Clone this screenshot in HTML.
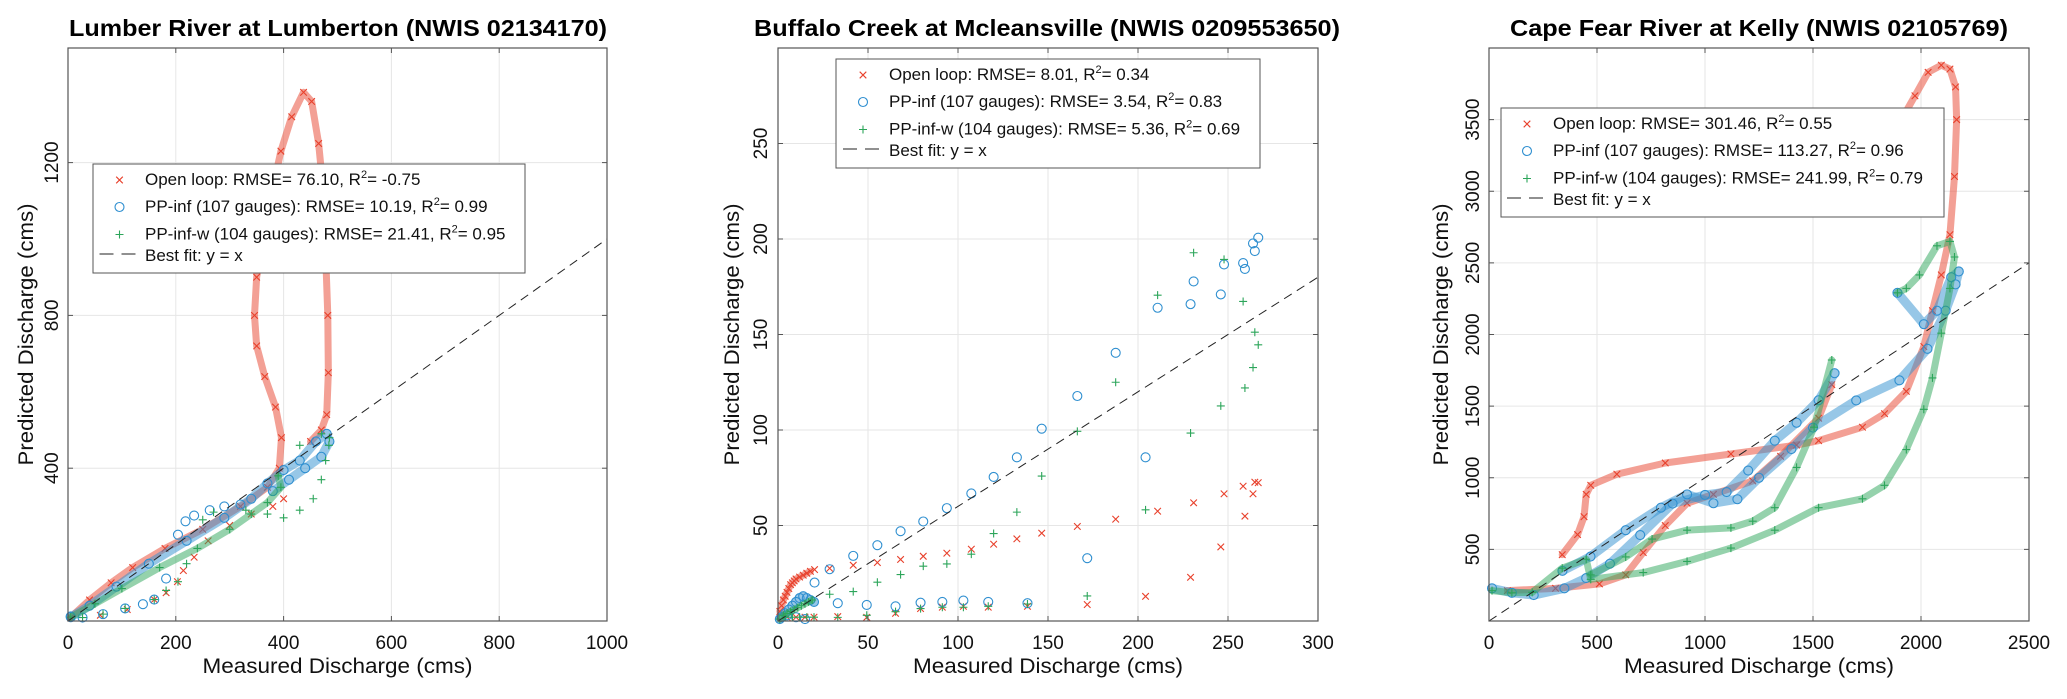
<!DOCTYPE html>
<html><head><meta charset="utf-8"><title>Discharge comparison</title>
<style>
html,body{margin:0;padding:0;background:#fff;}
svg{display:block;font-family:"Liberation Sans",Arial,sans-serif;}
</style></head>
<body>
<svg id="fig" width="2067" height="699" viewBox="0 0 2067 699" xmlns="http://www.w3.org/2000/svg"></svg>
<script>
// ---------- Panel 1: Lumber River ----------
const p1Title = "Lumber River at Lumberton (NWIS 02134170)";
const p1XTicks = [0,200,400,600,800,1000];
const p1YTicks = [400,800,1200];
const p1XRange = [0,1000];
const p1YRange = [0,1500];
const p1BestFit = [[0,0],[1000,1000]];
const p1Legend = ["Open loop: RMSE= 76.10, R|= -0.75","PP-inf (107 gauges): RMSE= 10.19, R|= 0.99","PP-inf-w (104 gauges): RMSE= 21.41, R|= 0.95","Best fit: y = x"];
const p1Red = [[[5,10],[40,55],[80,100],[120,140],[180,190],[250,240],[320,300],[370,350],[392,400],[396,480],[385,560],[365,640],[350,720],[346,800],[350,900],[362,1000],[378,1120],[395,1230],[415,1320],[437,1384],[452,1360],[465,1250],[474,1120],[478,960],[482,800],[483,650],[480,540],[470,500],[450,470]],
  [[5,8],[60,15],[110,30],[160,56],[182,74],[203,103],[214,132],[234,167],[260,210],[300,250],[340,280],[380,300],[400,320]]];
const p1Blue = [[[5,10],[40,40],[90,90],[150,150],[220,210],[290,270],[340,320],[370,360],[400,395],[430,420],[460,470],[480,490],[485,470],[470,430],[440,400],[410,370],[380,340]],
  [[5,12],[27,9],[65,18],[106,33],[139,44],[160,56],[182,111],[204,226],[218,261],[234,276],[263,290],[290,300],[320,305]]];
const p1Green = [[[5,10],[50,45],[100,85],[170,140],[240,190],[300,240],[340,280],[370,310],[395,350],[390,380]],
  [[330,290],[370,280],[400,270],[430,290],[455,320],[470,370],[478,420],[484,460],[485,480],[470,490],[430,460]],
  [[27,9],[65,18],[106,33],[160,56],[182,80],[204,103],[220,150],[250,265],[270,285]]];
const p1Dense = [true,false,false];

// ---------- Panel 2: Buffalo Creek ----------
const p2Title = "Buffalo Creek at Mcleansville (NWIS 0209553650)";
const p2XTicks = [0,50,100,150,200,250,300];
const p2YTicks = [50,100,150,200,250];
const p2XRange = [0,300];
const p2YRange = [0,300];
const p2BestFit = [[0,0],[300,180]];
const p2Legend = ["Open loop: RMSE= 8.01, R|= 0.34","PP-inf (107 gauges): RMSE= 3.54, R|= 0.83","PP-inf-w (104 gauges): RMSE= 5.36, R|= 0.69","Best fit: y = x"];
const p2Red = [[[264.9,72.7],[266.8,72.4],[258.4,70.6],[247.8,66.6],[230.9,61.9],[210.9,57.5],[187.6,53.3],[166.3,49.5],[146.5,46.0],[132.7,43.0],[119.8,40.2],[107.4,37.6],[93.8,35.5],[80.7,33.9],[68.1,32.2],[55.2,30.6],[41.8,29.2],[28.7,27.6],[20.3,26.9],[263.9,66.6],[259.4,54.9],[246.0,38.8],[229.2,22.9],[204.2,12.9],[171.8,8.6],[138.6,7.7],[116.8,7.2],[103,7.7],[91.3,7.2],[79.2,6.5],[65.3,4.0],[49.3,1.9],[33.2,2.3],[5,2],[10,2],[15,2],[20,2]],
  [[1,5],[2,8],[3,11],[4,13],[5,15],[6,17],[7,19],[8,20],[9,21],[10,22],[12,23],[14,24],[16,25],[18,26]]];
const p2Blue = [[[266.8,200.7],[263.9,197.7],[264.9,193.7],[258.4,187.4],[259.4,184.3],[247.8,186.7],[246.0,171.0],[230.9,177.8],[229.2,165.9],[210.9,164.0],[187.6,140.4],[166.3,117.8],[146.5,100.7],[132.7,85.7],[119.8,75.4],[107.4,66.8],[93.8,59.1],[80.7,52.1],[68.1,47.0],[55.2,39.7],[41.8,34.1],[28.7,27.1],[20.3,20.1],[33.2,9.3],[49.3,8.4],[65.3,7.7],[79.2,9.6],[91.3,10.0],[103,10.7],[116.8,10.0],[138.6,9.3],[171.8,32.9],[204.2,85.7],[5,3],[10,2],[15,1]],
  [[1,1],[2,2],[4,4],[6,6],[8,8],[10,10],[12,12],[14,13],[16,12],[18,11],[20,10]]];
const p2Green = [[[230.9,192.8],[247.8,189.3],[210.9,170.6],[258.4,167.3],[264.9,151.2],[266.8,144.6],[263.9,132.7],[259.4,122.0],[187.6,125.0],[246.0,112.6],[229.2,98.4],[166.3,99.3],[146.5,75.9],[132.7,57.0],[119.8,45.8],[107.4,35.0],[93.8,29.9],[80.7,28.7],[68.1,24.3],[55.2,20.3],[41.8,15.4],[28.7,14.0],[204.2,58.2],[171.8,13.1],[138.6,8.9],[116.8,7.7],[103,7.2],[91.3,7.2],[79.2,6.5],[65.3,4.9],[49.3,3.0],[33.2,1.9],[4,2],[8,2],[12,2],[16,2],[20,2]],
  [[1,1],[3,3],[5,4],[7,5],[9,6],[11,7],[13,8],[15,9],[17,10],[19,11]]];
const p2Dense = [false,true];

// ---------- Panel 3: Cape Fear River ----------
const p3Title = "Cape Fear River at Kelly (NWIS 02105769)";
const p3XTicks = [0,500,1000,1500,2000,2500];
const p3YTicks = [500,1000,1500,2000,2500,3000,3500];
const p3XRange = [0,2500];
const p3YRange = [0,4000];
const p3BestFit = [[0,0],[2500,2500]];
const p3Legend = ["Open loop: RMSE= 301.46, R|= 0.55","PP-inf (107 gauges): RMSE= 113.27, R|= 0.96","PP-inf-w (104 gauges): RMSE= 241.99, R|= 0.79","Best fit: y = x"];
const p3Red = [[[339,463],[410,603],[440,728],[450,884],[471,947],[592,1025],[816,1103],[1120,1166],[1424,1228],[1526,1259],[1729,1353],[1831,1447],[1932,1603],[2013,1916],[2053,2166],[2094,2416],[2134,2697],[2155,3103],[2165,3500],[2160,3728],[2134,3853],[2094,3880],[2033,3830],[1972,3666],[1932,3560]],
  [[85,212],[308,228],[511,259],[633,322],[714,478],[816,666],[917,822],[1039,884],[1221,978],[1350,1150],[1526,1416],[1587,1650]]];
const p3Blue = [[[14,228],[106,197],[207,181],[349,228],[450,300],[560,400],[700,600],[850,820],[1000,880],[1100,900],[1200,1050],[1323,1259],[1424,1384],[1526,1541],[1600,1730]],
  [[340,350],[470,450],[633,634],[796,791],[917,884],[1039,822],[1150,850],[1250,1000],[1400,1200],[1500,1350],[1700,1540],[1900,1680],[2030,1900],[2114,2166],[2160,2350],[2175,2440],[2140,2400],[2074,2166],[2013,2072],[1891,2291]]];
const p3Green = [[[14,212],[106,197],[200,200],[339,369],[450,431],[471,291],[714,338],[917,416],[1120,509],[1323,634],[1526,791],[1729,853],[1831,947],[1932,1197],[2013,1478],[2053,1697],[2094,2009],[2134,2322],[2155,2541],[2134,2650],[2074,2619],[1993,2416],[1932,2322],[1891,2291]],
  [[471,322],[633,447],[755,572],[917,634],[1120,650],[1221,697],[1323,791],[1424,1072],[1505,1353],[1587,1822]]];
const p3Dense = [true,true];

const RED="#e8412c", BLUE="#2f8fd0", GREEN="#2ca55a";
const NS="http://www.w3.org/2000/svg";
const fig=document.getElementById('fig');
function mk(tag,attrs,parent){const e=document.createElementNS(NS,tag);for(const k in attrs)e.setAttribute(k,attrs[k]);(parent||fig).appendChild(e);return e;}

const panels=[
 {id:'lumber',title:p1Title,tw:538,xt:p1XTicks,yt:p1YTicks,xr:p1XRange,yr:p1YRange,bf:p1BestFit,leg:p1Legend,red:p1Red,blue:p1Blue,green:p1Green,dense:p1Dense,
  box:[68,48,607,621],tcx:338,ytx:51,ylx:26,lg:[93,164,432,109],lmx:119.5,ltx:145},
 {id:'buffalo',title:p2Title,tw:586,xt:p2XTicks,yt:p2YTicks,xr:p2XRange,yr:p2YRange,bf:p2BestFit,leg:p2Legend,red:p2Red,blue:p2Blue,green:p2Green,dense:p2Dense,
  box:[778,48,1318,621],tcx:1047,ytx:760,ylx:732,lg:[836,59,424,109],lmx:863,ltx:889},
 {id:'capefear',title:p3Title,tw:498,xt:p3XTicks,yt:p3YTicks,xr:p3XRange,yr:p3YRange,bf:p3BestFit,leg:p3Legend,red:p3Red,blue:p3Blue,green:p3Green,dense:p3Dense,
  box:[1489,48,2029,621],tcx:1759,ytx:1472,ylx:1441,lg:[1501,108,443,109],lmx:1527,ltx:1553}
];

function marker(g,type,x,y,color){
  let e;
  if(type==='x'){e=mk('path',{d:`M${x-3.3},${y-3.3}L${x+3.3},${y+3.3}M${x-3.3},${y+3.3}L${x+3.3},${y-3.3}`,stroke:color,'stroke-width':1.1,fill:'none'},g);}
  else if(type==='o'){e=mk('circle',{cx:x,cy:y,r:4.5,stroke:color,'stroke-width':1.1,fill:'none'},g);}
  else {e=mk('path',{d:`M${x-4},${y}L${x+4},${y}M${x},${y-4}L${x},${y+4}`,stroke:color,'stroke-width':1.1,fill:'none'},g);}
  return e;
}
function legendText(parent,x,y,str){
  const t=mk('text',{x:x,y:y,'font-size':17,fill:'#111'},parent);
  const parts=str.split('|');
  if(parts.length===1){t.textContent=str;return t;}
  const a=mk('tspan',{},t);a.textContent=parts[0];
  const s=mk('tspan',{dy:-7,'font-size':11},t);s.textContent='2';
  const b=mk('tspan',{dy:7},t);b.textContent=parts[1];
  return t;
}

panels.forEach(P=>{
  const [L,T,R,B]=P.box;
  const sx=v=>L+(v-P.xr[0])/(P.xr[1]-P.xr[0])*(R-L);
  const sy=v=>B-(v-P.yr[0])/(P.yr[1]-P.yr[0])*(B-T);
  const g=mk('g',{});
  
  
  mk('rect',{x:L,y:T,width:R-L,height:B-T,fill:'#fff'},g);
  const grid=mk('g',{},g);
  
  
  P.xt.forEach(v=>{const x=sx(v);mk('line',{x1:x,y1:T,x2:x,y2:B,stroke:'#e6e6e6','stroke-width':1},grid);});
  P.yt.forEach(v=>{const y=sy(v);mk('line',{x1:L,y1:y,x2:R,y2:y,stroke:'#e6e6e6','stroke-width':1},grid);});
  const series=[['x',RED,P.red,'open-loop'],['o',BLUE,P.blue,'pp-inf'],['+',GREEN,P.green,'pp-inf-w']];
  series.forEach(([type,color,segs,nm])=>{
    const sg=mk('g',{},g);
    
    
    segs.forEach((seg,i)=>{
      if(P.dense[i]){
        const pts=seg.map(p=>sx(p[0])+','+sy(p[1])).join(' ');
        const pl=mk('polyline',{points:pts,fill:'none',stroke:color,'stroke-width':type==='o'?9:7,'stroke-opacity':0.5,'stroke-linejoin':'round','stroke-linecap':'round'},sg);
        
        
      }
      seg.forEach(p=>{
        const m=marker(sg,type,sx(p[0]),sy(p[1]),color);
        
        
      });
    });
  });
  const bf=mk('line',{x1:sx(P.bf[0][0]),y1:sy(P.bf[0][1]),x2:sx(P.bf[1][0]),y2:sy(P.bf[1][1]),stroke:'#222','stroke-width':1,'stroke-dasharray':'9,6'},g);
  
  
  const ax=mk('rect',{x:L,y:T,width:R-L,height:B-T,fill:'none',stroke:'#555','stroke-width':1.2},g);
  
  
  P.xt.forEach(v=>{
    const x=sx(v);
    mk('line',{x1:x,y1:B,x2:x,y2:B-5,stroke:'#555'},g);
    mk('line',{x1:x,y1:T,x2:x,y2:T+5,stroke:'#555'},g);
    const t=mk('text',{x:x,y:649,'text-anchor':'middle','font-size':19,fill:'#111'},g);
    t.textContent=String(v);
    
    
  });
  P.yt.forEach(v=>{
    const y=sy(v);
    mk('line',{x1:L,y1:y,x2:L+5,y2:y,stroke:'#555'},g);
    mk('line',{x1:R,y1:y,x2:R-5,y2:y,stroke:'#555'},g);
    const t=mk('text',{x:P.ytx,y:y,'text-anchor':'middle','font-size':19,fill:'#111',transform:`rotate(-90 ${P.ytx} ${y})`,dy:7},g);
    t.textContent=String(v);
    
    
  });
  const xl=mk('text',{x:(L+R)/2,y:673,'text-anchor':'middle','font-size':21,fill:'#111',textLength:270,lengthAdjust:'spacingAndGlyphs'},g);
  xl.textContent='Measured Discharge (cms)';
  
  
  const cy=(T+B)/2;
  const yl=mk('text',{x:P.ylx,y:cy,'text-anchor':'middle','font-size':21,fill:'#111',dy:7,transform:`rotate(-90 ${P.ylx} ${cy})`,textLength:262,lengthAdjust:'spacingAndGlyphs'},g);
  yl.textContent='Predicted Discharge (cms)';
  
  
  const tl=mk('text',{x:P.tcx,y:36,'text-anchor':'middle','font-size':23,'font-weight':'bold',fill:'#000',textLength:P.tw,lengthAdjust:'spacingAndGlyphs'},g);
  tl.textContent=P.title;
  
  
  const [lx,ly,lw,lh]=P.lg;
  const lgG=mk('g',{},g);
  
  
  mk('rect',{x:lx,y:ly,width:lw,height:lh,fill:'#fff',stroke:'#555','stroke-width':1},lgG);
  const rows=[20,47,74.5,96];
  const types=['x','o','+'];const cols=[RED,BLUE,GREEN];
  P.leg.forEach((str,i)=>{
    const ry=ly+rows[i];
    if(i<3){const m=marker(lgG,types[i],P.lmx,ry-4,cols[i]);
      
      }
    else{const d=mk('line',{x1:P.lmx-20,y1:ry-6,x2:P.lmx+17,y2:ry-6,stroke:'#222','stroke-dasharray':'14,8'},lgG);
      
      }
    const t=legendText(lgG,P.ltx,ry+1,str);
    
    
  });
});
</script>
</body></html>
